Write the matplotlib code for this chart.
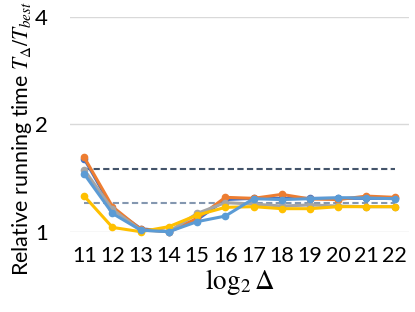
import matplotlib
matplotlib.use("Agg")
import matplotlib.pyplot as plt
from matplotlib.ticker import FixedLocator, FixedFormatter

plt.rcParams["font.family"] = ["Lato", "DejaVu Sans"]
plt.rcParams["mathtext.fontset"] = "stix"

log_delta = [11, 12, 13, 14, 15, 16, 17, 18, 19, 20, 21, 22]

# relative running time per series (Excel default palette order)
series_dark_blue = [1.60, 1.16, 1.02, 1.00, 1.08, 1.23, 1.24, 1.24, 1.24, 1.24, 1.24, 1.24]
series_orange = [1.615, 1.175, 1.015, 1.00, 1.09, 1.248, 1.24, 1.272, 1.235, 1.23, 1.258, 1.248]
series_gray = [1.49, 1.155, 1.01, 1.00, 1.125, 1.206, 1.195, 1.18, 1.188, 1.18, 1.175, 1.175]
series_yellow = [1.258, 1.028, 1.00, 1.033, 1.113, 1.17, 1.175, 1.16, 1.16, 1.175, 1.175, 1.175]
series_light_blue = [1.45, 1.125, 1.01, 1.00, 1.067, 1.106, 1.237, 1.23, 1.237, 1.245, 1.243, 1.237]

ref_high = 1.5
ref_low = 1.2

series = [
    (series_dark_blue, "#4472C4"),
    (series_orange, "#ED7D31"),
    (series_gray, "#A5A5A5"),
    (series_yellow, "#FFC000"),
    (series_light_blue, "#5B9BD5"),
]

fig = plt.figure(figsize=(4.15, 3.12), dpi=100)
ax = fig.add_axes([0.169, 0.2574, 0.816, 0.689])

for vals, col in series:
    ax.plot(log_delta, vals, color=col, lw=2.2, marker="o", ms=4.5,
            clip_on=False, zorder=3)

ax.plot([log_delta[0], log_delta[-1]], [ref_high, ref_high], color="#44546A",
        lw=1.5, ls=(0, (3, 1.6)), zorder=2)
ax.plot([log_delta[0], log_delta[-1]], [ref_low, ref_low], color="#8497B0",
        lw=1.5, ls=(0, (3, 1.6)), zorder=2)

ax.set_yscale("log", base=2)
ax.set_ylim(1, 4)
ax.set_xlim(10.5, 22.5)
ax.yaxis.set_major_locator(FixedLocator([1, 2, 4]))
ax.yaxis.set_major_formatter(FixedFormatter(["1", "2", "4"]))
ax.yaxis.set_minor_locator(FixedLocator([]))
ax.set_xticks(log_delta)
ax.set_xticklabels([str(v) for v in log_delta])
ax.grid(axis="y", color="#D9D9D9", lw=1)
ax.set_axisbelow(True)
for s in ax.spines.values():
    s.set_visible(False)
ax.tick_params(axis="y", length=0, pad=16, labelsize=16)
ax.tick_params(axis="x", length=0, pad=10, labelsize=15.5)

ax.set_xlabel(r"$\log_2\Delta$", fontsize=19.5, labelpad=1)
fig.text(0.053, 0.555, r"Relative running time $T_{\Delta}/T_{best}$",
         rotation=90, ha="center", va="center", fontsize=15.5)

fig.savefig("out.png", dpi=100)
